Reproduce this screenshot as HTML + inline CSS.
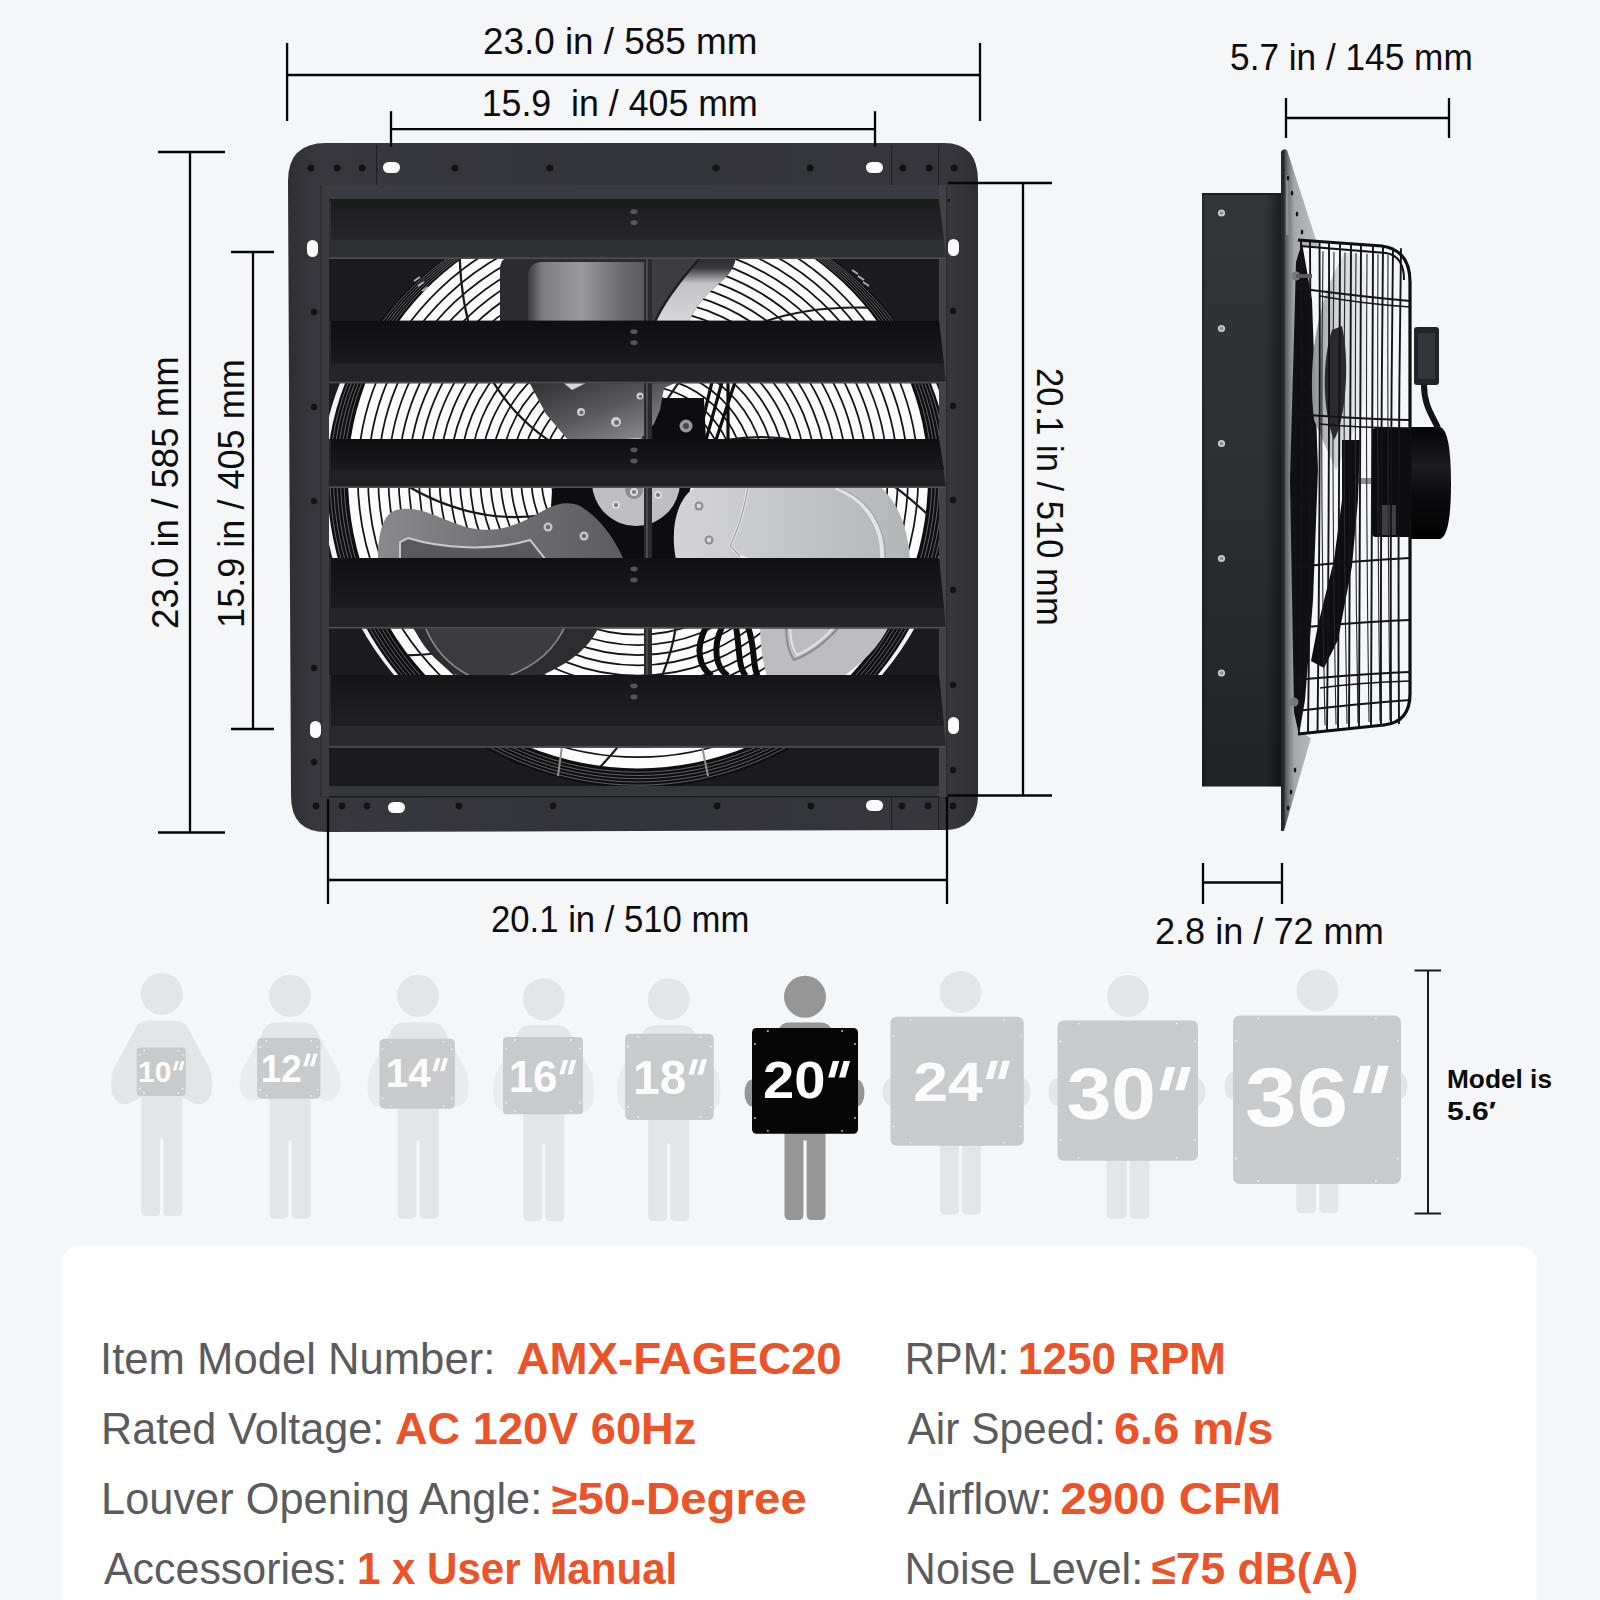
<!DOCTYPE html>
<html><head><meta charset="utf-8"><title>Shutter Exhaust Fan Dimensions</title>
<style>
html,body{margin:0;padding:0;background:#f5f6f8;}
body{width:1600px;height:1600px;overflow:hidden;font-family:"Liberation Sans",sans-serif;}
svg{display:block}
text{font-family:"Liberation Sans",sans-serif;}
</style></head><body>
<svg width="1600" height="1600" viewBox="0 0 1600 1600">
<rect width="1600" height="1600" fill="#f5f6f8"/>
<g id="front">
<defs>
<clipPath id="fOpen"><rect x="329" y="201" width="610" height="585"/></clipPath>
<linearGradient id="fFrame" x1="0" y1="0" x2="1" y2="0"><stop offset="0" stop-color="#2e2e33"/><stop offset="0.04" stop-color="#37373d"/><stop offset="0.5" stop-color="#333439"/><stop offset="0.96" stop-color="#36363c"/><stop offset="1" stop-color="#2e2e33"/></linearGradient>
<linearGradient id="fDish" x1="0" y1="0" x2="1" y2="0"><stop offset="0" stop-color="#3c3c3f"/><stop offset="0.12" stop-color="#7d7d80"/><stop offset="0.45" stop-color="#9a9a9d"/><stop offset="0.8" stop-color="#6a6a6d"/><stop offset="1" stop-color="#58585b"/></linearGradient>
<linearGradient id="fRoot" x1="0" y1="0" x2="1" y2="1"><stop offset="0" stop-color="#2e2e31"/><stop offset="0.5" stop-color="#5a5a5d"/><stop offset="1" stop-color="#9b9b9e"/></linearGradient>
<linearGradient id="fLeftBlade" x1="0" y1="0" x2="1" y2="0"><stop offset="0" stop-color="#8a8a8d"/><stop offset="0.5" stop-color="#707073"/><stop offset="1" stop-color="#5c5c5f"/></linearGradient>
<linearGradient id="fRightBlade" x1="0" y1="0" x2="1" y2="0"><stop offset="0" stop-color="#d4d4d6"/><stop offset="0.5" stop-color="#c4c5c7"/><stop offset="1" stop-color="#b4b5b7"/></linearGradient>
<linearGradient id="fLouv" x1="0" y1="0" x2="0" y2="1"><stop offset="0" stop-color="#0c0c0e"/><stop offset="1" stop-color="#141416"/></linearGradient>
<linearGradient id="fTopR" x1="0" y1="0" x2="0" y2="1"><stop offset="0" stop-color="#29292c"/><stop offset="0.18" stop-color="#3a3a3d"/><stop offset="0.4" stop-color="#c2c2c4"/><stop offset="1" stop-color="#d8d8da"/></linearGradient>
</defs>
<path d="M326 143 H944 Q978 143 978 181 V795 Q978 830 944 830 L326 832 Q291 832 291 796 L288 181 Q288 143 326 143 Z" fill="url(#fFrame)"/>
<rect x="322" y="185" width="628" height="17" fill="#3a3b40"/>
<rect x="322" y="199" width="628" height="3" fill="#1a1a1d"/>
<rect x="326" y="785" width="622" height="12" fill="#35363b"/>
<rect x="326" y="796" width="622" height="1.5" fill="#1d1d20"/>
<rect x="321.5" y="185" width="7.5" height="612" fill="#3b3b40"/><rect x="320.5" y="185" width="1.2" height="612" fill="#2a2a2e"/>
<rect x="939" y="185" width="7.5" height="612" fill="#424247"/><rect x="946.3" y="185" width="1.2" height="612" fill="#2a2a2e"/>
<rect x="376" y="145" width="1.2" height="40" fill="#1f2023"/>
<rect x="891" y="145" width="1.2" height="40" fill="#1f2023"/>
<rect x="938" y="145" width="1.2" height="40" fill="#1f2023"/>
<rect x="891" y="797" width="1.2" height="33" fill="#1f2023"/>
<rect x="938" y="797" width="1.2" height="33" fill="#1f2023"/>
<circle cx="311" cy="168" r="3.6" fill="#141416"/>
<circle cx="337" cy="168" r="3.6" fill="#141416"/>
<circle cx="362" cy="168" r="3.6" fill="#141416"/>
<circle cx="455" cy="168" r="3.6" fill="#141416"/>
<circle cx="550" cy="168" r="3.6" fill="#141416"/>
<circle cx="716" cy="168" r="3.6" fill="#141416"/>
<circle cx="810" cy="168" r="3.6" fill="#141416"/>
<circle cx="903" cy="168" r="3.6" fill="#141416"/>
<circle cx="929" cy="168" r="3.6" fill="#141416"/>
<circle cx="954" cy="168" r="3.6" fill="#141416"/>
<circle cx="316" cy="806" r="3.4" fill="#141416"/>
<circle cx="342" cy="806" r="3.4" fill="#141416"/>
<circle cx="367" cy="806" r="3.4" fill="#141416"/>
<circle cx="459" cy="806" r="3.4" fill="#141416"/>
<circle cx="553" cy="806" r="3.4" fill="#141416"/>
<circle cx="717" cy="806" r="3.4" fill="#141416"/>
<circle cx="811" cy="806" r="3.4" fill="#141416"/>
<circle cx="902" cy="806" r="3.4" fill="#141416"/>
<circle cx="928" cy="806" r="3.4" fill="#141416"/>
<circle cx="953" cy="806" r="3.4" fill="#141416"/>
<circle cx="314" cy="312" r="3.2" fill="#141416"/>
<circle cx="314" cy="407" r="3.2" fill="#141416"/>
<circle cx="314" cy="501" r="3.2" fill="#141416"/>
<circle cx="314" cy="668" r="3.2" fill="#141416"/>
<circle cx="314" cy="762" r="3.2" fill="#141416"/>
<circle cx="953" cy="311" r="3.2" fill="#141416"/>
<circle cx="953" cy="406" r="3.2" fill="#141416"/>
<circle cx="953" cy="500" r="3.2" fill="#141416"/>
<circle cx="953" cy="590" r="3.2" fill="#141416"/>
<circle cx="953" cy="685" r="3.2" fill="#141416"/>
<circle cx="953" cy="770" r="3.2" fill="#141416"/>
<rect x="383" y="162" width="17" height="11" rx="5.5" fill="#fbfbfc"/>
<rect x="866" y="162" width="17" height="11" rx="5.5" fill="#fbfbfc"/>
<rect x="307" y="240" width="11" height="17" rx="5.5" fill="#fbfbfc"/>
<rect x="948" y="239" width="11" height="17" rx="5.5" fill="#fbfbfc"/>
<rect x="310" y="721" width="11" height="17" rx="5.5" fill="#fbfbfc"/>
<rect x="948" y="717" width="11" height="17" rx="5.5" fill="#fbfbfc"/>
<rect x="388" y="802" width="17" height="11" rx="5.5" fill="#fbfbfc"/>
<rect x="866" y="800" width="17" height="11" rx="5.5" fill="#fbfbfc"/>
<g clip-path="url(#fOpen)">
<rect x="329" y="201" width="610" height="585" fill="#1b1b1e"/>
<clipPath id="fCres"><rect x="329" y="383" width="610" height="300"/></clipPath>
<path d="M321.5 477 A316.5 279.0 0 0 1 954.5 477 A316.5 311.0 0 0 1 321.5 477 Z" fill="#f4f4f5" clip-path="url(#fCres)"/>
<path d="M327.0 477 A311.0 279.0 0 0 1 949.0 477 A311.0 311.0 0 0 1 327.0 477 Z" fill="#0f0f11"/>
<path d="M348.0 477 A290.0 274.9 0 0 1 928.0 477 A290.0 291.4 0 0 1 348.0 477 Z" fill="#fcfcfd"/>
<path d="M344.0 477 A294.0 275.9 0 0 1 932.0 477 A294.0 295.2 0 0 1 344.0 477 Z" fill="none" stroke="#77777a" stroke-width="0.8"/>
<path d="M340.5 477 A297.5 276.6 0 0 1 935.5 477 A297.5 298.5 0 0 1 340.5 477 Z" fill="none" stroke="#77777a" stroke-width="0.8"/>
<path d="M337.0 477 A301.0 277.3 0 0 1 939.0 477 A301.0 301.7 0 0 1 337.0 477 Z" fill="none" stroke="#77777a" stroke-width="0.8"/>
<path d="M333.5 477 A304.5 277.9 0 0 1 942.5 477 A304.5 305.0 0 0 1 333.5 477 Z" fill="none" stroke="#77777a" stroke-width="0.8"/>
<path d="M330.0 477 A308.0 278.5 0 0 1 946.0 477 A308.0 308.2 0 0 1 330.0 477 Z" fill="none" stroke="#77777a" stroke-width="0.8"/>
<path d="M572.0 477 A66.0 62.7 0 0 1 704.0 477 A66.0 66.0 0 0 1 572.0 477 Z" fill="none" stroke="#141416" stroke-width="1.75"/>
<path d="M561.8 477 A76.2 72.4 0 0 1 714.2 477 A76.2 76.2 0 0 1 561.8 477 Z" fill="none" stroke="#141416" stroke-width="1.75"/>
<path d="M551.6 477 A86.4 82.1 0 0 1 724.4 477 A86.4 86.4 0 0 1 551.6 477 Z" fill="none" stroke="#141416" stroke-width="1.75"/>
<path d="M541.4 477 A96.6 91.8 0 0 1 734.6 477 A96.6 96.6 0 0 1 541.4 477 Z" fill="none" stroke="#141416" stroke-width="1.75"/>
<path d="M531.2 477 A106.8 101.5 0 0 1 744.8 477 A106.8 106.8 0 0 1 531.2 477 Z" fill="none" stroke="#141416" stroke-width="1.75"/>
<path d="M521.0 477 A117.0 111.2 0 0 1 755.0 477 A117.0 117.0 0 0 1 521.0 477 Z" fill="none" stroke="#141416" stroke-width="1.75"/>
<path d="M510.8 477 A127.2 120.8 0 0 1 765.2 477 A127.2 127.2 0 0 1 510.8 477 Z" fill="none" stroke="#141416" stroke-width="1.75"/>
<path d="M500.6 477 A137.4 130.5 0 0 1 775.4 477 A137.4 137.4 0 0 1 500.6 477 Z" fill="none" stroke="#141416" stroke-width="1.75"/>
<path d="M490.4 477 A147.6 140.2 0 0 1 785.6 477 A147.6 147.6 0 0 1 490.4 477 Z" fill="none" stroke="#141416" stroke-width="1.75"/>
<path d="M480.2 477 A157.8 149.9 0 0 1 795.8 477 A157.8 157.8 0 0 1 480.2 477 Z" fill="none" stroke="#141416" stroke-width="1.75"/>
<path d="M470.0 477 A168.0 159.6 0 0 1 806.0 477 A168.0 168.0 0 0 1 470.0 477 Z" fill="none" stroke="#141416" stroke-width="1.75"/>
<path d="M459.8 477 A178.2 169.3 0 0 1 816.2 477 A178.2 178.2 0 0 1 459.8 477 Z" fill="none" stroke="#141416" stroke-width="1.75"/>
<path d="M449.6 477 A188.4 179.0 0 0 1 826.4 477 A188.4 188.4 0 0 1 449.6 477 Z" fill="none" stroke="#141416" stroke-width="1.75"/>
<path d="M439.4 477 A198.6 188.7 0 0 1 836.6 477 A198.6 198.6 0 0 1 439.4 477 Z" fill="none" stroke="#141416" stroke-width="1.75"/>
<path d="M429.2 477 A208.8 198.4 0 0 1 846.8 477 A208.8 208.8 0 0 1 429.2 477 Z" fill="none" stroke="#141416" stroke-width="1.75"/>
<path d="M419.0 477 A219.0 208.0 0 0 1 857.0 477 A219.0 219.0 0 0 1 419.0 477 Z" fill="none" stroke="#141416" stroke-width="1.75"/>
<path d="M408.8 477 A229.2 217.7 0 0 1 867.2 477 A229.2 229.2 0 0 1 408.8 477 Z" fill="none" stroke="#141416" stroke-width="1.75"/>
<path d="M398.6 477 A239.4 227.4 0 0 1 877.4 477 A239.4 239.4 0 0 1 398.6 477 Z" fill="none" stroke="#141416" stroke-width="1.75"/>
<path d="M388.4 477 A249.6 237.1 0 0 1 887.6 477 A249.6 249.6 0 0 1 388.4 477 Z" fill="none" stroke="#141416" stroke-width="1.75"/>
<path d="M378.2 477 A259.8 246.8 0 0 1 897.8 477 A259.8 259.8 0 0 1 378.2 477 Z" fill="none" stroke="#141416" stroke-width="1.75"/>
<path d="M368.0 477 A270.0 256.5 0 0 1 908.0 477 A270.0 270.0 0 0 1 368.0 477 Z" fill="none" stroke="#141416" stroke-width="1.75"/>
<path d="M357.8 477 A280.2 266.2 0 0 1 918.2 477 A280.2 280.2 0 0 1 357.8 477 Z" fill="none" stroke="#141416" stroke-width="1.75"/>
<path d="M698.9 496.8 Q811.9 553.5 816.3 708.3" fill="none" stroke="#1a1a1c" stroke-width="2.2"/>
<path d="M667.1 534.0 Q706.9 654.1 600.5 766.6" fill="none" stroke="#1a1a1c" stroke-width="2.2"/>
<path d="M618.2 537.9 Q561.5 650.9 406.7 655.3" fill="none" stroke="#1a1a1c" stroke-width="2.2"/>
<path d="M581.0 506.1 Q460.9 545.9 348.4 441.4" fill="none" stroke="#1a1a1c" stroke-width="2.2"/>
<path d="M577.1 457.2 Q464.1 400.5 459.7 257.3" fill="none" stroke="#1a1a1c" stroke-width="2.2"/>
<path d="M608.9 420.0 Q569.1 299.9 675.5 201.9" fill="none" stroke="#1a1a1c" stroke-width="2.2"/>
<path d="M657.8 416.1 Q714.5 303.1 869.3 307.7" fill="none" stroke="#1a1a1c" stroke-width="2.2"/>
<path d="M695.0 447.9 Q815.1 408.1 927.6 514.5" fill="none" stroke="#1a1a1c" stroke-width="2.2"/>
<path d="M414 281 l6 -4 M418 286 l6 -4 M422 291 l6 -4 M852 270 l6 4 M858 276 l6 4 M863 282 l6 4" stroke="#b5b5b8" stroke-width="1.6" fill="none"/>
<path d="M652 398 L704 398 L706 440 L690 490 L684 560 L548 560 L552 490 L600 440 Z" fill="#0d0d0f"/>
<path d="M712 382 L698 440 M722 382 L706 440 M728 382 L728 440 M735 382 L716 440" stroke="#0e0e10" stroke-width="3.2" fill="none"/>
<circle cx="686" cy="426" r="6.5" fill="#9a9a9d"/><circle cx="686" cy="426" r="3" fill="#4a4a4d"/>
<path d="M706 627 C694 650 700 668 712 676 M722 627 C712 648 716 668 728 676 M736 627 C740 650 738 668 746 676 M748 627 C756 650 752 668 758 676" stroke="#0c0c0e" stroke-width="6" fill="none"/>
<path d="M510 256 H736 C734 276 716 284 704 298 C694 310 690 318 688 324 H500 V270 Q500 258 510 256 Z" fill="#2c2c2f"/>
<path d="M540 262 H646 V324 H528 V276 Q528 264 540 262 Z" fill="url(#fDish)"/>
<path d="M652 256 H736 C734 276 716 284 704 298 C694 310 690 318 688 324 H652 Z" fill="url(#fTopR)"/>
<path d="M652 256 H700 C684 276 664 300 654 324 H652 Z" fill="#3d3d40"/>
<path d="M700 258 C684 276 664 300 654 324" fill="none" stroke="#1f1f22" stroke-width="2.5"/>
<path d="M528 380 H682 L664 388 L660 410 L654 424 L640 440 H568 L546 414 Z" fill="url(#fRoot)"/>
<path d="M560 380 L572 390 L584 384 L592 380 Z" fill="#d6d6d8"/>
<circle cx="581" cy="412" r="4" fill="#cfcfd1"/><circle cx="581.5" cy="412.5" r="2.0" fill="#6a6a6d"/>
<circle cx="616" cy="422" r="5" fill="#cfcfd1"/><circle cx="616.5" cy="422.5" r="2.5" fill="#6a6a6d"/>
<circle cx="640" cy="396" r="3.5" fill="#cfcfd1"/><circle cx="640.5" cy="396.5" r="1.75" fill="#6a6a6d"/>
<circle cx="636" cy="482" r="44" fill="#bfbfc1"/>
<circle cx="634" cy="490" r="9" fill="#8c8c8f"/>
<circle cx="616" cy="505" r="4" fill="#dcdcde"/><circle cx="616" cy="505" r="2" fill="#77777a"/>
<circle cx="658" cy="495" r="4" fill="#dcdcde"/><circle cx="658" cy="495" r="2" fill="#77777a"/>
<circle cx="634" cy="492" r="4" fill="#dcdcde"/><circle cx="634" cy="492" r="2" fill="#77777a"/>
<path d="M378 560 C378 530 384 514 396 510 C420 504 440 520 470 528 C500 534 520 524 548 508 C560 502 572 502 580 506 C600 518 614 538 624 560 Z" fill="url(#fLeftBlade)"/>
<path d="M400 560 V542 L408 538 C440 548 490 552 530 540 L546 560 Z" fill="#59595c"/>
<path d="M400 560 V542 L408 538 C440 548 490 552 530 540 L546 560" fill="none" stroke="#c9c9cb" stroke-width="2"/>
<circle cx="548" cy="527" r="4.5" fill="#c6c6c8"/><circle cx="548" cy="527" r="2.2" fill="#6a6a6d"/>
<circle cx="584" cy="536" r="4.5" fill="#c6c6c8"/><circle cx="584" cy="536" r="2.2" fill="#6a6a6d"/>
<path d="M676 560 C670 530 676 500 694 488 L880 486 C900 505 908 530 910 560 Z" fill="url(#fRightBlade)"/>
<path d="M748 488 C744 510 738 530 730 546 L740 556 L750 560" fill="none" stroke="#e9e9eb" stroke-width="3"/>
<path d="M748 488 C744 510 738 530 730 546 L740 556" fill="none" stroke="#9d9da0" stroke-width="1.2"/>
<path d="M836 488 C868 500 884 530 882 560" fill="none" stroke="#e4e4e6" stroke-width="4"/>
<path d="M839 488 C871 500 887 530 885 560" fill="none" stroke="#a4a4a7" stroke-width="1.2"/>
<circle cx="699" cy="506" r="4.5" fill="#8e8e91"/><circle cx="699" cy="506" r="2.4" fill="#d8d8da"/>
<circle cx="709" cy="540" r="4.5" fill="#8e8e91"/><circle cx="709" cy="540" r="2.4" fill="#d8d8da"/>
<path d="M412 624 H600 C590 650 560 672 520 682 H470 C440 668 422 648 412 624 Z" fill="#2d2d30"/>
<path d="M424 624 H566 C556 648 536 666 508 676 H470 C446 664 432 646 424 624 Z" fill="#3c3c3f"/>
<path d="M424 624 C432 646 446 664 470 676 M566 624 C556 648 536 666 508 676" fill="none" stroke="#8d8d90" stroke-width="1.6"/>
<path d="M760 624 H890 C880 646 862 664 838 680 H768 C762 662 760 642 760 624 Z" fill="#bdbdbf"/>
<path d="M786 624 C786 640 788 652 794 660 C810 654 826 642 840 626" fill="none" stroke="#8b8b8e" stroke-width="2"/>
<path d="M790 624 C790 638 792 648 797 655 C811 649 824 639 835 626" fill="none" stroke="#e2e2e4" stroke-width="2"/>
<rect x="644" y="256" width="8" height="424" fill="#2b2b2e"/>
<rect x="646" y="256" width="2" height="424" fill="#4a4a4d"/>
<path d="M562 746 L558 776 M702 746 L708 776" stroke="#8f8f92" stroke-width="2" fill="none"/>
</g>
<linearGradient id="fL0" x1="0" y1="0" x2="0" y2="1"><stop offset="0" stop-color="#1c1c1f"/><stop offset="1" stop-color="#27272b"/></linearGradient>
<path d="M329 200.7 H939 L946 259 H329 Z" fill="#2f3034"/>
<path d="M331 200.7 H939 L944 239.7 H331 Z" fill="url(#fL0)"/>
<rect x="329" y="257.4" width="617" height="1.6" fill="#505054"/>
<ellipse cx="634" cy="211.7" rx="3.6" ry="2.4" fill="#55555a"/><ellipse cx="634" cy="222.7" rx="3.6" ry="2.4" fill="#55555a"/>
<linearGradient id="fL1" x1="0" y1="0" x2="0" y2="1"><stop offset="0" stop-color="#0f0f11"/><stop offset="1" stop-color="#1a1a1d"/></linearGradient>
<path d="M329 320.7 H939 L946 383.3 H329 Z" fill="#252528"/>
<path d="M331 320.7 H939 L944 363.4 H331 Z" fill="url(#fL1)"/>
<rect x="329" y="381.7" width="617" height="1.6" fill="#505054"/>
<ellipse cx="634" cy="331.7" rx="3.6" ry="2.4" fill="#55555a"/><ellipse cx="634" cy="342.7" rx="3.6" ry="2.4" fill="#55555a"/>
<linearGradient id="fL2" x1="0" y1="0" x2="0" y2="1"><stop offset="0" stop-color="#0f0f11"/><stop offset="1" stop-color="#1a1a1d"/></linearGradient>
<path d="M329 439 H939 L946 488 H329 Z" fill="#222225"/>
<path d="M331 439 H939 L944 470 H331 Z" fill="url(#fL2)"/>
<rect x="329" y="486.4" width="617" height="1.6" fill="#505054"/>
<ellipse cx="634" cy="450" rx="3.6" ry="2.4" fill="#55555a"/><ellipse cx="634" cy="461" rx="3.6" ry="2.4" fill="#55555a"/>
<linearGradient id="fL3" x1="0" y1="0" x2="0" y2="1"><stop offset="0" stop-color="#111113"/><stop offset="1" stop-color="#1c1c1f"/></linearGradient>
<path d="M329 558 H939 L946 628.5 H329 Z" fill="#252528"/>
<path d="M331 558 H939 L944 608.2 H331 Z" fill="url(#fL3)"/>
<rect x="329" y="626.9" width="617" height="1.6" fill="#505054"/>
<ellipse cx="634" cy="569" rx="3.6" ry="2.4" fill="#55555a"/><ellipse cx="634" cy="580" rx="3.6" ry="2.4" fill="#55555a"/>
<linearGradient id="fL4" x1="0" y1="0" x2="0" y2="1"><stop offset="0" stop-color="#151517"/><stop offset="1" stop-color="#202023"/></linearGradient>
<path d="M329 675 H939 L946 747.7 H329 Z" fill="#2a2a2e"/>
<path d="M331 675 H939 L944 726 H331 Z" fill="url(#fL4)"/>
<rect x="329" y="746.1" width="617" height="1.6" fill="#505054"/>
<ellipse cx="634" cy="686" rx="3.6" ry="2.4" fill="#55555a"/><ellipse cx="634" cy="697" rx="3.6" ry="2.4" fill="#55555a"/>
</g>
<g id="side">
<defs>
<linearGradient id="sBox" x1="0" y1="0" x2="0" y2="1"><stop offset="0" stop-color="#333539"/><stop offset="0.3" stop-color="#2f3135"/><stop offset="0.7" stop-color="#282a2e"/><stop offset="1" stop-color="#222327"/></linearGradient>
<linearGradient id="sBoxE" x1="0" y1="0" x2="1" y2="0"><stop offset="0" stop-color="#000" stop-opacity="0.28"/><stop offset="0.06" stop-color="#000" stop-opacity="0"/><stop offset="0.8" stop-color="#000" stop-opacity="0"/><stop offset="1" stop-color="#000" stop-opacity="0.45"/></linearGradient>
<linearGradient id="sFl" gradientUnits="userSpaceOnUse" x1="1284" y1="0" x2="1314" y2="0"><stop offset="0" stop-color="#45474b"/><stop offset="0.15" stop-color="#76787c"/><stop offset="0.35" stop-color="#a6a8ac"/><stop offset="1" stop-color="#b8babe"/></linearGradient>
<linearGradient id="sMotor" x1="0" y1="0" x2="0" y2="1"><stop offset="0" stop-color="#050506"/><stop offset="0.35" stop-color="#1d1d20"/><stop offset="0.6" stop-color="#0b0b0d"/><stop offset="1" stop-color="#020203"/></linearGradient>
<linearGradient id="sBlade" x1="0" y1="0" x2="1" y2="0"><stop offset="0" stop-color="#8e8f92"/><stop offset="0.45" stop-color="#d2d3d5"/><stop offset="1" stop-color="#eeeff1"/></linearGradient>
<clipPath id="sCage"><path d="M1298 240 L1382 246 Q1410 250 1410 282 V694 Q1410 722 1384 725 L1298 734 Z"/></clipPath>
</defs>
<path d="M1281 152 Q1283 148 1287 150 L1318 246 L1300 246 L1300 732 L1311 738 L1284 831 L1281 831 Z" fill="url(#sFl)"/>
<path d="M1286 175 L1288 175 L1289 235 L1286 235 Z" fill="#8a8c90"/>
<path d="M1281 153 Q1282 149 1284.5 150 L1284.5 826 L1283 831 L1281 831 Z" fill="#26272a"/>
<ellipse cx="1288" cy="178" rx="1.3" ry="2.6" fill="#141416"/>
<ellipse cx="1292" cy="193" rx="1.3" ry="2.6" fill="#141416"/>
<ellipse cx="1297" cy="214" rx="1.3" ry="2.6" fill="#141416"/>
<ellipse cx="1302" cy="232" rx="1.3" ry="2.6" fill="#141416"/>
<ellipse cx="1295" cy="770" rx="1.3" ry="2.6" fill="#141416"/>
<ellipse cx="1291" cy="792" rx="1.3" ry="2.6" fill="#141416"/>
<ellipse cx="1288" cy="808" rx="1.3" ry="2.6" fill="#141416"/>
<rect x="1202" y="193" width="79" height="593.5" fill="url(#sBox)"/><rect x="1202" y="193" width="79" height="593.5" fill="url(#sBoxE)"/>
<rect x="1202" y="193" width="79" height="2" fill="#1d1e21"/>
<circle cx="1221.5" cy="213" r="3.6" fill="#c9cacc"/><circle cx="1221.5" cy="213" r="1.8" fill="#8a8b8e"/>
<circle cx="1221.5" cy="328.5" r="3.6" fill="#c9cacc"/><circle cx="1221.5" cy="328.5" r="1.8" fill="#8a8b8e"/>
<circle cx="1221.5" cy="443.5" r="3.6" fill="#c9cacc"/><circle cx="1221.5" cy="443.5" r="1.8" fill="#8a8b8e"/>
<circle cx="1221.5" cy="558.5" r="3.6" fill="#c9cacc"/><circle cx="1221.5" cy="558.5" r="1.8" fill="#8a8b8e"/>
<circle cx="1221.5" cy="673" r="3.6" fill="#c9cacc"/><circle cx="1221.5" cy="673" r="1.8" fill="#8a8b8e"/>
<path d="M1296 262 L1302 243 L1312 300 L1318 470 L1313 600 L1305 700 L1299 735 L1294 712 L1290 480 Z" fill="#111114"/>
<g clip-path="url(#sCage)">
<path d="M1345 252 C1322 290 1306 350 1314 420 L1336 470 L1362 412 C1370 350 1368 292 1362 256 Z" fill="url(#sBlade)"/>
<path d="M1332 330 C1322 360 1322 410 1334 440 C1346 420 1350 360 1342 326 Z" fill="#2b2b2e"/>
<rect x="1345" y="478" width="30" height="6" fill="#8f9093"/>
<path d="M1342 440 L1360 440 L1358 500 L1352 566 L1338 640 L1324 668 L1311 661 L1318 625 L1334 560 L1342 500 Z" fill="#0e0e10"/>
</g>
<rect x="1372" y="428" width="42" height="109" rx="4" fill="#0c0c0e"/>
<path d="M1410 427 H1440 Q1451 430 1451 483 Q1451 536 1440 539 H1410 Z" fill="url(#sMotor)"/>
<rect x="1380" y="505" width="16" height="30" fill="#3f4044"/>
<rect x="1414" y="327" width="25" height="58" rx="3" fill="#222326"/>
<rect x="1418" y="333" width="17" height="46" rx="2" fill="#33353a"/>
<path d="M1424 385 C1424 405 1432 415 1438 428" fill="none" stroke="#141416" stroke-width="6"/>
<path d="M1301.0 241.0 Q1303.0 487 1299.0 733.0 M1310.0 241.7 Q1311.5 487 1308.0 732.2 M1319.5 242.3 Q1320.5 487 1317.5 731.3 M1329.0 243.0 Q1329.5 487 1327.0 730.5 M1340.0 243.8 Q1339.9 487 1338.0 729.5 M1351.0 244.6 Q1350.3 487 1349.0 728.5 M1361.0 245.4 Q1359.7 487 1359.0 727.5 M1373.0 246.2 Q1371.1 487 1371.0 726.5 M1383.0 247.0 Q1380.5 487 1381.0 725.5 M1393.0 247.7 Q1390.0 487 1391.0 724.6 M1401.0 248.3 Q1397.5 487 1399.0 723.9 " fill="none" stroke="#141416" stroke-width="1.9"/>
<path d="M1323.0 251.3 Q1319.8 487 1325.0 725.3 M1334.0 251.9 Q1331.2 487 1336.0 724.5 M1345.0 252.5 Q1342.6 487 1347.0 723.7 M1356.0 253.1 Q1354.0 487 1358.0 722.9 M1367.0 253.7 Q1365.4 487 1369.0 722.1 M1378.0 254.3 Q1376.8 487 1380.0 721.3 M1388.0 254.8 Q1387.2 487 1390.0 720.6 " fill="none" stroke="#2a2a2d" stroke-width="1.1"/>
<path d="M1296 288 Q1360 296.5 1410 301" fill="none" stroke="#141416" stroke-width="2"/>
<path d="M1296 414 Q1360 419.0 1410 420" fill="none" stroke="#141416" stroke-width="2"/>
<path d="M1296 567 Q1360 560.5 1410 558" fill="none" stroke="#141416" stroke-width="2"/>
<path d="M1296 628 Q1360 622.0 1410 620" fill="none" stroke="#141416" stroke-width="2"/>
<path d="M1296 680 Q1360 674.0 1410 672" fill="none" stroke="#141416" stroke-width="2"/>
<path d="M1296 711 Q1360 703.5 1410 700" fill="none" stroke="#141416" stroke-width="2"/>
<path d="M1320 296 Q1360 303.5 1410 307" fill="none" stroke="#141416" stroke-width="1.3"/>
<path d="M1320 424 Q1360 428.0 1410 428" fill="none" stroke="#141416" stroke-width="1.3"/>
<path d="M1320 688 Q1360 682.5 1410 681" fill="none" stroke="#141416" stroke-width="1.3"/>
<path d="M1298 240 L1382 246 Q1410 250 1410 282 V694 Q1410 722 1384 725 L1298 734" fill="none" stroke="#0f0f11" stroke-width="3.2"/>
<path d="M1300 246 L1386 253 Q1404 256 1404 280" fill="none" stroke="#0f0f11" stroke-width="2"/>
<circle cx="1296" cy="276" r="4.5" fill="#77787b"/><rect x="1296" y="274" width="16" height="4" fill="#5a5b5e"/>
<circle cx="1294" cy="702" r="4.5" fill="#77787b"/>
</g>
<g id="dims">
<line x1="286" y1="75" x2="981" y2="75" stroke="#060607" stroke-width="2.3"/>
<line x1="287.1" y1="43" x2="287.1" y2="121" stroke="#060607" stroke-width="2.3"/>
<line x1="980" y1="43" x2="980" y2="121" stroke="#060607" stroke-width="2.3"/>
<text xml:space="preserve" x="483.00" y="54" font-size="37" font-weight="normal" fill="#0d0d0e" textLength="274.41" lengthAdjust="spacingAndGlyphs">23.0 in / 585 mm</text>
<line x1="390" y1="129.1" x2="876" y2="129.1" stroke="#060607" stroke-width="2.3"/>
<line x1="391" y1="111.2" x2="391" y2="146.8" stroke="#060607" stroke-width="2.3"/>
<line x1="875" y1="111.2" x2="875" y2="146.8" stroke="#060607" stroke-width="2.3"/>
<text xml:space="preserve" x="481.67" y="115.5" font-size="37" font-weight="normal" fill="#0d0d0e" textLength="276.09" lengthAdjust="spacingAndGlyphs">15.9  in / 405 mm</text>
<line x1="190" y1="152" x2="190" y2="833" stroke="#060607" stroke-width="2.3"/>
<line x1="158" y1="152" x2="225" y2="152" stroke="#060607" stroke-width="2.3"/>
<line x1="158" y1="832.5" x2="225" y2="832.5" stroke="#060607" stroke-width="2.3"/>
<text x="-0.99" y="0" font-size="37" fill="#0d0d0e" textLength="272.79" lengthAdjust="spacingAndGlyphs" transform="translate(178 628) rotate(-90)">23.0 in / 585 mm</text>
<line x1="253" y1="252" x2="253" y2="729" stroke="#060607" stroke-width="2.3"/>
<line x1="231" y1="252" x2="274" y2="252" stroke="#060607" stroke-width="2.3"/>
<line x1="231" y1="729" x2="274" y2="729" stroke="#060607" stroke-width="2.3"/>
<text x="-1.95" y="0" font-size="37" fill="#0d0d0e" textLength="268.73" lengthAdjust="spacingAndGlyphs" transform="translate(244 626) rotate(-90)">15.9 in / 405 mm</text>
<line x1="1023" y1="183" x2="1023" y2="796" stroke="#060607" stroke-width="2.3"/>
<line x1="948" y1="183" x2="1052" y2="183" stroke="#060607" stroke-width="2.3"/>
<line x1="948" y1="795.5" x2="1052" y2="795.5" stroke="#060607" stroke-width="2.3"/>
<text x="-0.93" y="0" font-size="37" fill="#0d0d0e" textLength="257.64" lengthAdjust="spacingAndGlyphs" transform="translate(1037 369) rotate(90)">20.1 in / 510 mm</text>
<line x1="327" y1="880" x2="948" y2="880" stroke="#060607" stroke-width="2.3"/>
<line x1="328" y1="799" x2="328" y2="904" stroke="#060607" stroke-width="2.3"/>
<line x1="947" y1="797" x2="947" y2="904" stroke="#060607" stroke-width="2.3"/>
<text xml:space="preserve" x="491.06" y="932" font-size="37" font-weight="normal" fill="#0d0d0e" textLength="258.24" lengthAdjust="spacingAndGlyphs">20.1 in / 510 mm</text>
<line x1="1285" y1="118" x2="1450" y2="118" stroke="#060607" stroke-width="2.3"/>
<line x1="1286" y1="98" x2="1286" y2="138" stroke="#060607" stroke-width="2.3"/>
<line x1="1449" y1="98" x2="1449" y2="138" stroke="#060607" stroke-width="2.3"/>
<text xml:space="preserve" x="1230.05" y="69.5" font-size="37" font-weight="normal" fill="#0d0d0e" textLength="242.68" lengthAdjust="spacingAndGlyphs">5.7 in / 145 mm</text>
<line x1="1202" y1="882.5" x2="1283" y2="882.5" stroke="#060607" stroke-width="2.3"/>
<line x1="1203" y1="863" x2="1203" y2="904" stroke="#060607" stroke-width="2.3"/>
<line x1="1282" y1="863" x2="1282" y2="904" stroke="#060607" stroke-width="2.3"/>
<text xml:space="preserve" x="1155.02" y="943.5" font-size="37" font-weight="normal" fill="#0d0d0e" textLength="228.75" lengthAdjust="spacingAndGlyphs">2.8 in / 72 mm</text>
</g>
<g id="people">
<circle cx="161.75" cy="993.75" r="21" fill="#e4e5e7"/>
<path d="M148.75 1020.75 H174.75 Q183.75 1020.75 187.75 1027.75 L209.75 1068.75 Q213.75 1080.75 211.75 1091.75 Q208.75 1105.75 195.75 1103.75 L182.25 1097.75 L141.25 1097.75 L127.75 1103.75 Q114.75 1105.75 111.75 1091.75 Q109.75 1080.75 113.75 1068.75 L135.75 1027.75 Q139.75 1020.75 148.75 1020.75 Z" fill="#e4e5e7"/>
<path d="M147.75 1020.75 H175.75 Q183.75 1020.75 187.75 1027.75 L191.75 1036.75 V1090.75 H131.75 V1036.75 L135.75 1027.75 Q139.75 1020.75 147.75 1020.75 Z" fill="#e4e5e7"/>
<path d="M141.25 1080.75 H160.15 V1211 Q160.15 1216 155.15 1216 H146.25 Q141.25 1216 141.25 1211 Z" fill="#e4e5e7"/>
<path d="M182.25 1080.75 H163.35 V1211 Q163.35 1216 168.35 1216 H177.25 Q182.25 1216 182.25 1211 Z" fill="#e4e5e7"/>
<rect x="159.65" y="1080.75" width="4.2" height="58.0" fill="#e4e5e7"/>
<rect x="136.75" y="1047.5" width="49.0" height="48.5" rx="4" fill="#c9cacc"/>
<circle cx="144.1" cy="1050.5" r="0.9" fill="#f2f2f3"/>
<circle cx="178.4" cy="1050.5" r="0.9" fill="#f2f2f3"/>
<circle cx="144.1" cy="1093.0" r="0.9" fill="#f2f2f3"/>
<circle cx="178.4" cy="1093.0" r="0.9" fill="#f2f2f3"/>
<circle cx="139.8" cy="1054.8" r="0.9" fill="#f2f2f3"/>
<circle cx="182.8" cy="1054.8" r="0.9" fill="#f2f2f3"/>
<circle cx="139.8" cy="1088.7" r="0.9" fill="#f2f2f3"/>
<circle cx="182.8" cy="1088.7" r="0.9" fill="#f2f2f3"/>
<text x="137.9" y="1081.75" font-size="28.6" font-weight="bold" fill="#fcfcfc" textLength="33.5" lengthAdjust="spacingAndGlyphs">10</text>
<path d="M175.4 1061.2 H178.8 L176.2 1070.5 H172.8 Z" fill="#fcfcfc"/>
<path d="M181.1 1061.2 H184.5 L181.9 1070.5 H178.6 Z" fill="#fcfcfc"/>
<circle cx="290" cy="995.75" r="21" fill="#e4e5e7"/>
<path d="M277 1022.5 H303 Q312 1022.5 316 1029.5 L338 1070.5 Q342 1082.5 340 1088.5 Q337 1102.5 324 1100.5 L310.5 1094.5 L269.5 1094.5 L256 1100.5 Q243 1102.5 240 1088.5 Q238 1082.5 242 1070.5 L264 1029.5 Q268 1022.5 277 1022.5 Z" fill="#eaebed"/>
<path d="M276 1022.5 H304 Q312 1022.5 316 1029.5 L320 1038.5 V1092.5 H260 V1038.5 L264 1029.5 Q268 1022.5 276 1022.5 Z" fill="#e4e5e7"/>
<path d="M269.5 1082.5 H288.4 V1213.75 Q288.4 1218.75 283.4 1218.75 H274.5 Q269.5 1218.75 269.5 1213.75 Z" fill="#e4e5e7"/>
<path d="M310.5 1082.5 H291.6 V1213.75 Q291.6 1218.75 296.6 1218.75 H305.5 Q310.5 1218.75 310.5 1213.75 Z" fill="#e4e5e7"/>
<rect x="287.9" y="1082.5" width="4.2" height="58.0" fill="#e4e5e7"/>
<rect x="257" y="1038" width="63.5" height="60.75" rx="5" fill="#c9cacc"/>
<circle cx="266.5" cy="1041.0" r="0.9" fill="#f2f2f3"/>
<circle cx="311.0" cy="1041.0" r="0.9" fill="#f2f2f3"/>
<circle cx="266.5" cy="1095.8" r="0.9" fill="#f2f2f3"/>
<circle cx="311.0" cy="1095.8" r="0.9" fill="#f2f2f3"/>
<circle cx="260.0" cy="1047.1" r="0.9" fill="#f2f2f3"/>
<circle cx="317.5" cy="1047.1" r="0.9" fill="#f2f2f3"/>
<circle cx="260.0" cy="1089.6" r="0.9" fill="#f2f2f3"/>
<circle cx="317.5" cy="1089.6" r="0.9" fill="#f2f2f3"/>
<text x="260.8" y="1081.75" font-size="39.1" font-weight="bold" fill="#fcfcfc" textLength="40.9" lengthAdjust="spacingAndGlyphs">12</text>
<path d="M306.9 1053.8 H310.8 L307.3 1066.3 H303.3 Z" fill="#fcfcfc"/>
<path d="M313.6 1053.8 H317.5 L314.0 1066.3 H310.0 Z" fill="#fcfcfc"/>
<circle cx="418" cy="995.75" r="21" fill="#e4e5e7"/>
<path d="M405 1022.5 H431 Q440 1022.5 444 1029.5 L466 1070.5 Q470 1082.5 468 1094.5 Q465 1108.5 452 1106.5 L438.5 1100.5 L397.5 1100.5 L384 1106.5 Q371 1108.5 368 1094.5 Q366 1082.5 370 1070.5 L392 1029.5 Q396 1022.5 405 1022.5 Z" fill="#eaebed"/>
<path d="M404 1022.5 H432 Q440 1022.5 444 1029.5 L448 1038.5 V1092.5 H388 V1038.5 L392 1029.5 Q396 1022.5 404 1022.5 Z" fill="#e4e5e7"/>
<path d="M397.5 1082.5 H416.4 V1213.75 Q416.4 1218.75 411.4 1218.75 H402.5 Q397.5 1218.75 397.5 1213.75 Z" fill="#e4e5e7"/>
<path d="M438.5 1082.5 H419.6 V1213.75 Q419.6 1218.75 424.6 1218.75 H433.5 Q438.5 1218.75 438.5 1213.75 Z" fill="#e4e5e7"/>
<rect x="415.9" y="1082.5" width="4.2" height="58.0" fill="#e4e5e7"/>
<rect x="379.5" y="1038.75" width="75.5" height="70.0" rx="5" fill="#c9cacc"/>
<circle cx="390.8" cy="1041.8" r="0.9" fill="#f2f2f3"/>
<circle cx="443.7" cy="1041.8" r="0.9" fill="#f2f2f3"/>
<circle cx="390.8" cy="1105.8" r="0.9" fill="#f2f2f3"/>
<circle cx="443.7" cy="1105.8" r="0.9" fill="#f2f2f3"/>
<circle cx="382.5" cy="1049.2" r="0.9" fill="#f2f2f3"/>
<circle cx="452.0" cy="1049.2" r="0.9" fill="#f2f2f3"/>
<circle cx="382.5" cy="1098.2" r="0.9" fill="#f2f2f3"/>
<circle cx="452.0" cy="1098.2" r="0.9" fill="#f2f2f3"/>
<text x="385.8" y="1087" font-size="40.2" font-weight="bold" fill="#fcfcfc" textLength="44.8" lengthAdjust="spacingAndGlyphs">14</text>
<path d="M436.1 1058.2 H440.5 L436.9 1071.2 H432.4 Z" fill="#fcfcfc"/>
<path d="M443.6 1058.2 H448.0 L444.4 1071.2 H440.0 Z" fill="#fcfcfc"/>
<circle cx="543.75" cy="999.25" r="21" fill="#e4e5e7"/>
<path d="M530.75 1025.5 H556.75 Q565.75 1025.5 569.75 1032.5 L591.75 1073.5 Q595.75 1085.5 593.75 1099.5 Q590.75 1113.5 577.75 1111.5 L564.25 1105.5 L523.25 1105.5 L509.75 1111.5 Q496.75 1113.5 493.75 1099.5 Q491.75 1085.5 495.75 1073.5 L517.75 1032.5 Q521.75 1025.5 530.75 1025.5 Z" fill="#eaebed"/>
<path d="M529.75 1025.5 H557.75 Q565.75 1025.5 569.75 1032.5 L573.75 1041.5 V1095.5 H513.75 V1041.5 L517.75 1032.5 Q521.75 1025.5 529.75 1025.5 Z" fill="#e4e5e7"/>
<path d="M523.25 1085.5 H542.15 V1216 Q542.15 1221 537.15 1221 H528.25 Q523.25 1221 523.25 1216 Z" fill="#e4e5e7"/>
<path d="M564.25 1085.5 H545.35 V1216 Q545.35 1221 550.35 1221 H559.25 Q564.25 1221 564.25 1216 Z" fill="#e4e5e7"/>
<rect x="541.65" y="1085.5" width="4.2" height="58.0" fill="#e4e5e7"/>
<rect x="503" y="1037" width="80" height="77.25" rx="4" fill="#c9cacc"/>
<circle cx="515.0" cy="1040.0" r="0.9" fill="#f2f2f3"/>
<circle cx="571.0" cy="1040.0" r="0.9" fill="#f2f2f3"/>
<circle cx="515.0" cy="1111.2" r="0.9" fill="#f2f2f3"/>
<circle cx="571.0" cy="1111.2" r="0.9" fill="#f2f2f3"/>
<circle cx="506.0" cy="1048.6" r="0.9" fill="#f2f2f3"/>
<circle cx="580.0" cy="1048.6" r="0.9" fill="#f2f2f3"/>
<circle cx="506.0" cy="1102.7" r="0.9" fill="#f2f2f3"/>
<circle cx="580.0" cy="1102.7" r="0.9" fill="#f2f2f3"/>
<text x="508.7" y="1091.75" font-size="44.3" font-weight="bold" fill="#fcfcfc" textLength="48.7" lengthAdjust="spacingAndGlyphs">16</text>
<path d="M563.4 1060.0 H568.1 L564.1 1074.3 H559.4 Z" fill="#fcfcfc"/>
<path d="M571.5 1060.0 H576.2 L572.2 1074.3 H567.5 Z" fill="#fcfcfc"/>
<circle cx="668.75" cy="999.25" r="21" fill="#e4e5e7"/>
<path d="M655.75 1025.5 H681.75 Q690.75 1025.5 694.75 1032.5 L717.75 1073.5 Q721.75 1085.5 719.75 1099.5 Q716.75 1113.5 703.75 1111.5 L689.25 1105.5 L648.25 1105.5 L633.75 1111.5 Q620.75 1113.5 617.75 1099.5 Q615.75 1085.5 619.75 1073.5 L642.75 1032.5 Q646.75 1025.5 655.75 1025.5 Z" fill="#eaebed"/>
<path d="M654.75 1025.5 H682.75 Q690.75 1025.5 694.75 1032.5 L698.75 1041.5 V1095.5 H638.75 V1041.5 L642.75 1032.5 Q646.75 1025.5 654.75 1025.5 Z" fill="#e4e5e7"/>
<path d="M648.25 1085.5 H667.15 V1216 Q667.15 1221 662.15 1221 H653.25 Q648.25 1221 648.25 1216 Z" fill="#e4e5e7"/>
<path d="M689.25 1085.5 H670.35 V1216 Q670.35 1221 675.35 1221 H684.25 Q689.25 1221 689.25 1216 Z" fill="#e4e5e7"/>
<rect x="666.65" y="1085.5" width="4.2" height="58.0" fill="#e4e5e7"/>
<rect x="625" y="1033.75" width="88.75" height="86.25" rx="5" fill="#c9cacc"/>
<circle cx="638.3" cy="1036.8" r="0.9" fill="#f2f2f3"/>
<circle cx="700.4" cy="1036.8" r="0.9" fill="#f2f2f3"/>
<circle cx="638.3" cy="1117.0" r="0.9" fill="#f2f2f3"/>
<circle cx="700.4" cy="1117.0" r="0.9" fill="#f2f2f3"/>
<circle cx="628.0" cy="1046.7" r="0.9" fill="#f2f2f3"/>
<circle cx="710.8" cy="1046.7" r="0.9" fill="#f2f2f3"/>
<circle cx="628.0" cy="1107.1" r="0.9" fill="#f2f2f3"/>
<circle cx="710.8" cy="1107.1" r="0.9" fill="#f2f2f3"/>
<text x="633.1" y="1093.75" font-size="48.2" font-weight="bold" fill="#fcfcfc" textLength="53.3" lengthAdjust="spacingAndGlyphs">18</text>
<path d="M692.9 1059.2 H698.1 L693.7 1074.8 H688.5 Z" fill="#fcfcfc"/>
<path d="M701.8 1059.2 H707.0 L702.7 1074.8 H697.4 Z" fill="#fcfcfc"/>
<circle cx="805" cy="996.75" r="21" fill="#969696"/>
<path d="M789 1022.5 H821 Q829 1022.5 832 1030.5 V1062.5 H778 V1030.5 Q781 1022.5 789 1022.5 Z" fill="#969696"/>
<ellipse cx="752" cy="1093" rx="7.5" ry="13.5" fill="#969696"/>
<ellipse cx="857" cy="1093" rx="7.5" ry="13.5" fill="#969696"/>
<path d="M784.5 1082.5 H803.4 V1215 Q803.4 1220 798.4 1220 H789.5 Q784.5 1220 784.5 1215 Z" fill="#969696"/>
<path d="M825.5 1082.5 H806.6 V1215 Q806.6 1220 811.6 1220 H820.5 Q825.5 1220 825.5 1215 Z" fill="#969696"/>
<rect x="802.9" y="1082.5" width="4.2" height="58.0" fill="#969696"/>
<rect x="752" y="1028" width="106" height="105.75" rx="4.5" fill="#060606"/>
<circle cx="767.9" cy="1031.0" r="0.9" fill="#d8d8d8"/>
<circle cx="842.1" cy="1031.0" r="0.9" fill="#d8d8d8"/>
<circle cx="767.9" cy="1130.8" r="0.9" fill="#d8d8d8"/>
<circle cx="842.1" cy="1130.8" r="0.9" fill="#d8d8d8"/>
<circle cx="755.0" cy="1043.9" r="0.9" fill="#d8d8d8"/>
<circle cx="855.0" cy="1043.9" r="0.9" fill="#d8d8d8"/>
<circle cx="755.0" cy="1117.9" r="0.9" fill="#d8d8d8"/>
<circle cx="855.0" cy="1117.9" r="0.9" fill="#d8d8d8"/>
<text x="763.0" y="1097.5" font-size="51.0" font-weight="bold" fill="#ffffff" textLength="62.5" lengthAdjust="spacingAndGlyphs">20</text>
<path d="M832.8 1061.0 H839.2 L834.6 1077.4 H828.2 Z" fill="#ffffff"/>
<path d="M843.6 1061.0 H850.0 L845.4 1077.4 H839.0 Z" fill="#ffffff"/>
<circle cx="960.5" cy="992" r="21" fill="#e4e5e7"/>
<path d="M944.5 1018 H976.5 Q984.5 1018 987.5 1026 V1058 H933.5 V1026 Q936.5 1018 944.5 1018 Z" fill="#e4e5e7"/>
<ellipse cx="890" cy="1092" rx="7.5" ry="13.5" fill="#e4e5e7"/>
<ellipse cx="1023" cy="1092" rx="7.5" ry="13.5" fill="#e4e5e7"/>
<path d="M940.0 1078 H958.9 V1209.5 Q958.9 1214.5 953.9 1214.5 H945.0 Q940.0 1214.5 940.0 1209.5 Z" fill="#e4e5e7"/>
<path d="M981.0 1078 H962.1 V1209.5 Q962.1 1214.5 967.1 1214.5 H976.0 Q981.0 1214.5 981.0 1209.5 Z" fill="#e4e5e7"/>
<rect x="958.4" y="1078" width="4.2" height="58" fill="#e4e5e7"/>
<rect x="890.5" y="1016.75" width="133.25" height="129.0" rx="6" fill="#c9cacc"/>
<circle cx="910.5" cy="1019.8" r="0.9" fill="#f2f2f3"/>
<circle cx="1003.8" cy="1019.8" r="0.9" fill="#f2f2f3"/>
<circle cx="910.5" cy="1142.8" r="0.9" fill="#f2f2f3"/>
<circle cx="1003.8" cy="1142.8" r="0.9" fill="#f2f2f3"/>
<circle cx="893.5" cy="1036.1" r="0.9" fill="#f2f2f3"/>
<circle cx="1020.8" cy="1036.1" r="0.9" fill="#f2f2f3"/>
<circle cx="893.5" cy="1126.4" r="0.9" fill="#f2f2f3"/>
<circle cx="1020.8" cy="1126.4" r="0.9" fill="#f2f2f3"/>
<text x="913.3" y="1101" font-size="56.2" font-weight="bold" fill="#fcfcfc" textLength="69.4" lengthAdjust="spacingAndGlyphs">24</text>
<path d="M990.8 1060.8 H997.9 L992.9 1078.9 H985.8 Z" fill="#fcfcfc"/>
<path d="M1002.9 1060.8 H1010.0 L1004.9 1078.9 H997.8 Z" fill="#fcfcfc"/>
<circle cx="1128" cy="996" r="21" fill="#e4e5e7"/>
<path d="M1112 1022 H1144 Q1152 1022 1155 1030 V1062 H1101 V1030 Q1104 1022 1112 1022 Z" fill="#e4e5e7"/>
<ellipse cx="1056" cy="1092" rx="7.5" ry="13.5" fill="#e4e5e7"/>
<ellipse cx="1198" cy="1092" rx="7.5" ry="13.5" fill="#e4e5e7"/>
<path d="M1106.5 1082 H1126.4 V1213.75 Q1126.4 1218.75 1121.4 1218.75 H1111.5 Q1106.5 1218.75 1106.5 1213.75 Z" fill="#e4e5e7"/>
<path d="M1149.5 1082 H1129.6 V1213.75 Q1129.6 1218.75 1134.6 1218.75 H1144.5 Q1149.5 1218.75 1149.5 1213.75 Z" fill="#e4e5e7"/>
<rect x="1125.9" y="1082" width="4.2" height="58" fill="#e4e5e7"/>
<rect x="1057.5" y="1020.5" width="140.5" height="140.25" rx="6" fill="#c9cacc"/>
<circle cx="1078.6" cy="1023.5" r="0.9" fill="#f2f2f3"/>
<circle cx="1176.9" cy="1023.5" r="0.9" fill="#f2f2f3"/>
<circle cx="1078.6" cy="1157.8" r="0.9" fill="#f2f2f3"/>
<circle cx="1176.9" cy="1157.8" r="0.9" fill="#f2f2f3"/>
<circle cx="1060.5" cy="1041.5" r="0.9" fill="#f2f2f3"/>
<circle cx="1195.0" cy="1041.5" r="0.9" fill="#f2f2f3"/>
<circle cx="1060.5" cy="1139.7" r="0.9" fill="#f2f2f3"/>
<circle cx="1195.0" cy="1139.7" r="0.9" fill="#f2f2f3"/>
<text x="1066.8" y="1118.75" font-size="72.3" font-weight="bold" fill="#fcfcfc" textLength="89.0" lengthAdjust="spacingAndGlyphs">30</text>
<path d="M1166.2 1067.0 H1175.3 L1168.8 1090.3 H1159.7 Z" fill="#fcfcfc"/>
<path d="M1181.7 1067.0 H1190.8 L1184.2 1090.3 H1175.2 Z" fill="#fcfcfc"/>
<circle cx="1317.5" cy="990.5" r="21" fill="#e4e5e7"/>
<path d="M1301.5 1016 H1333.5 Q1341.5 1016 1344.5 1024 V1056 H1290.5 V1024 Q1293.5 1016 1301.5 1016 Z" fill="#e4e5e7"/>
<ellipse cx="1232" cy="1086" rx="7.5" ry="13.5" fill="#e4e5e7"/>
<ellipse cx="1400" cy="1086" rx="7.5" ry="13.5" fill="#e4e5e7"/>
<path d="M1296.5 1076 H1315.9 V1208 Q1315.9 1213 1310.9 1213 H1301.5 Q1296.5 1213 1296.5 1208 Z" fill="#e4e5e7"/>
<path d="M1338.5 1076 H1319.1 V1208 Q1319.1 1213 1324.1 1213 H1333.5 Q1338.5 1213 1338.5 1208 Z" fill="#e4e5e7"/>
<rect x="1315.4" y="1076" width="4.2" height="58" fill="#e4e5e7"/>
<rect x="1233" y="1015.5" width="168" height="168.5" rx="7" fill="#c9cacc"/>
<circle cx="1258.2" cy="1018.5" r="0.9" fill="#f2f2f3"/>
<circle cx="1375.8" cy="1018.5" r="0.9" fill="#f2f2f3"/>
<circle cx="1258.2" cy="1181.0" r="0.9" fill="#f2f2f3"/>
<circle cx="1375.8" cy="1181.0" r="0.9" fill="#f2f2f3"/>
<circle cx="1236.0" cy="1040.8" r="0.9" fill="#f2f2f3"/>
<circle cx="1398.0" cy="1040.8" r="0.9" fill="#f2f2f3"/>
<circle cx="1236.0" cy="1158.7" r="0.9" fill="#f2f2f3"/>
<circle cx="1398.0" cy="1158.7" r="0.9" fill="#f2f2f3"/>
<text x="1245.0" y="1126" font-size="84.1" font-weight="bold" fill="#fcfcfc" textLength="103.2" lengthAdjust="spacingAndGlyphs">36</text>
<path d="M1360.3 1065.8 H1370.8 L1363.2 1092.9 H1352.7 Z" fill="#fcfcfc"/>
<path d="M1378.2 1065.8 H1388.8 L1381.2 1092.9 H1370.6 Z" fill="#fcfcfc"/>
<line x1="1428" y1="970" x2="1428" y2="1214" stroke="#1b1b1d" stroke-width="2"/>
<line x1="1414.5" y1="970.5" x2="1441" y2="970.5" stroke="#1b1b1d" stroke-width="2"/>
<line x1="1414.5" y1="1213.5" x2="1441" y2="1213.5" stroke="#1b1b1d" stroke-width="2"/>
<text x="1447" y="1087.5" font-size="25" font-weight="bold" fill="#0b0b0c" textLength="105" lengthAdjust="spacingAndGlyphs">Model is</text>
<text x="1447" y="1120" font-size="25" font-weight="bold" fill="#0b0b0c" textLength="49" lengthAdjust="spacingAndGlyphs">5.6′</text>
</g>
<g id="specs">
<rect x="62" y="1246" width="1475" height="400" rx="18" fill="#ffffff"/>
<text x="100.08" y="1374" font-size="44.5" font-weight="normal" fill="#5b5b5d" textLength="395.22" lengthAdjust="spacingAndGlyphs">Item Model Number:</text>
<text x="516.47" y="1374" font-size="44.5" font-weight="bold" fill="#ec5329" textLength="325.33" lengthAdjust="spacingAndGlyphs">AMX-FAGEC20</text>
<text x="101.09" y="1444" font-size="44.5" font-weight="normal" fill="#5b5b5d" textLength="283.17" lengthAdjust="spacingAndGlyphs">Rated Voltage:</text>
<text x="394.98" y="1444" font-size="44.5" font-weight="bold" fill="#ec5329" textLength="301.28" lengthAdjust="spacingAndGlyphs">AC 120V 60Hz</text>
<text x="101.09" y="1514" font-size="44.5" font-weight="normal" fill="#5b5b5d" textLength="441.17" lengthAdjust="spacingAndGlyphs">Louver Opening Angle:</text>
<text x="551.43" y="1514" font-size="44.5" font-weight="bold" fill="#ec5329" textLength="255.36" lengthAdjust="spacingAndGlyphs">≥50-Degree</text>
<text x="104.00" y="1584" font-size="44.5" font-weight="normal" fill="#5b5b5d" textLength="243.24" lengthAdjust="spacingAndGlyphs">Accessories:</text>
<text x="356.91" y="1584" font-size="44.5" font-weight="bold" fill="#ec5329" textLength="320.33" lengthAdjust="spacingAndGlyphs">1 x User Manual</text>
<text x="904.68" y="1374" font-size="44.5" font-weight="normal" fill="#5b5b5d" textLength="104.48" lengthAdjust="spacingAndGlyphs">RPM:</text>
<text x="1018.02" y="1374" font-size="44.5" font-weight="bold" fill="#ec5329" textLength="208.03" lengthAdjust="spacingAndGlyphs">1250 RPM</text>
<text x="907.50" y="1444" font-size="44.5" font-weight="normal" fill="#5b5b5d" textLength="198.21" lengthAdjust="spacingAndGlyphs">Air Speed:</text>
<text x="1113.94" y="1444" font-size="44.5" font-weight="bold" fill="#ec5329" textLength="159.40" lengthAdjust="spacingAndGlyphs">6.6 m/s</text>
<text x="907.50" y="1514" font-size="44.5" font-weight="normal" fill="#5b5b5d" textLength="144.33" lengthAdjust="spacingAndGlyphs">Airflow:</text>
<text x="1060.44" y="1514" font-size="44.5" font-weight="bold" fill="#ec5329" textLength="220.76" lengthAdjust="spacingAndGlyphs">2900 CFM</text>
<text x="904.58" y="1584" font-size="44.5" font-weight="normal" fill="#5b5b5d" textLength="238.70" lengthAdjust="spacingAndGlyphs">Noise Level:</text>
<text x="1151.50" y="1584" font-size="44.5" font-weight="bold" fill="#ec5329" textLength="206.81" lengthAdjust="spacingAndGlyphs">≤75 dB(A)</text>
</g>
</svg>
</body></html>
